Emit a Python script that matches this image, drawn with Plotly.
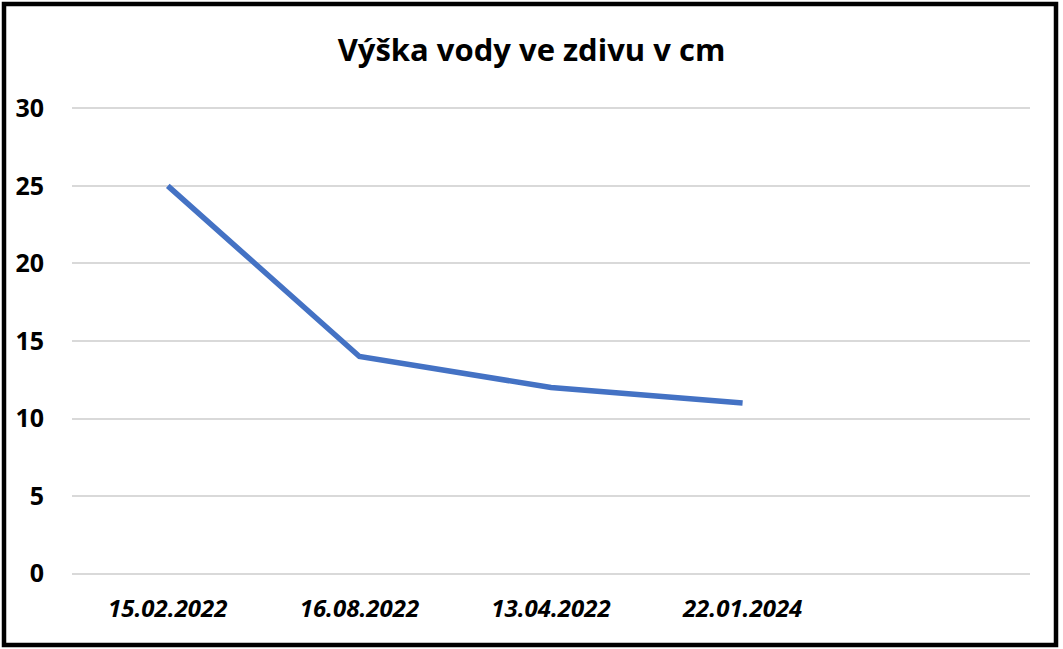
import plotly.graph_objects as go

title = "Výška vody ve zdivu v cm"
dates = ["15.02.2022", "16.08.2022", "13.04.2022", "22.01.2024"]
heights = [25, 14, 12, 11]
y_ticks = [0, 5, 10, 15, 20, 25, 30]

W, H = 1063, 649
ml, mr, mt, mb = 72, 33, 106, 73
pw, ph = W - ml - mr, H - mt - mb

fig = go.Figure()
fig.add_trace(go.Scatter(
    x=dates, y=heights, mode="lines",
    line=dict(color="#4472c4", width=5.5),
    showlegend=False, hoverinfo="x+y",
))

font_family = "Open Sans, Liberation Sans, Arial, sans-serif"

fig.update_layout(
    width=W, height=H,
    margin=dict(l=ml, r=mr, t=mt, b=mb),
    paper_bgcolor="white", plot_bgcolor="white",
    title=dict(text=title, x=0.5, xanchor="center", y=1 - 50 / H, yanchor="middle",
               font=dict(family=font_family, size=31, color="black", weight="bold")),
    xaxis=dict(type="category", range=[-0.5, 4.5], showgrid=False, zeroline=False,
               showline=False, ticks="",
               tickfont=dict(family=font_family, size=24, color="black",
                             weight="bold", style="italic"),
               ticklabelstandoff=16),
    yaxis=dict(range=[-0.15, 30.15], tickvals=y_ticks, showgrid=True, gridcolor="#d9d9d9",
               gridwidth=2, zeroline=True, zerolinecolor="#d9d9d9", zerolinewidth=2,
               showline=False, ticks="",
               tickfont=dict(family=font_family, size=25, color="black", weight="bold"),
               ticklabelstandoff=27),
    shapes=[dict(type="rect", xref="paper", yref="paper",
                 x0=-(ml - 4) / pw, x1=1 + (mr - 7) / pw,
                 y0=-(mb - 4) / ph, y1=1 + (mt - 4) / ph,
                 line=dict(color="black", width=4.5), fillcolor="rgba(0,0,0,0)",
                 layer="below")],
)

fig.write_html("out.html", config={"displayModeBar": False},
               post_script="document.body.style.margin='0';")
